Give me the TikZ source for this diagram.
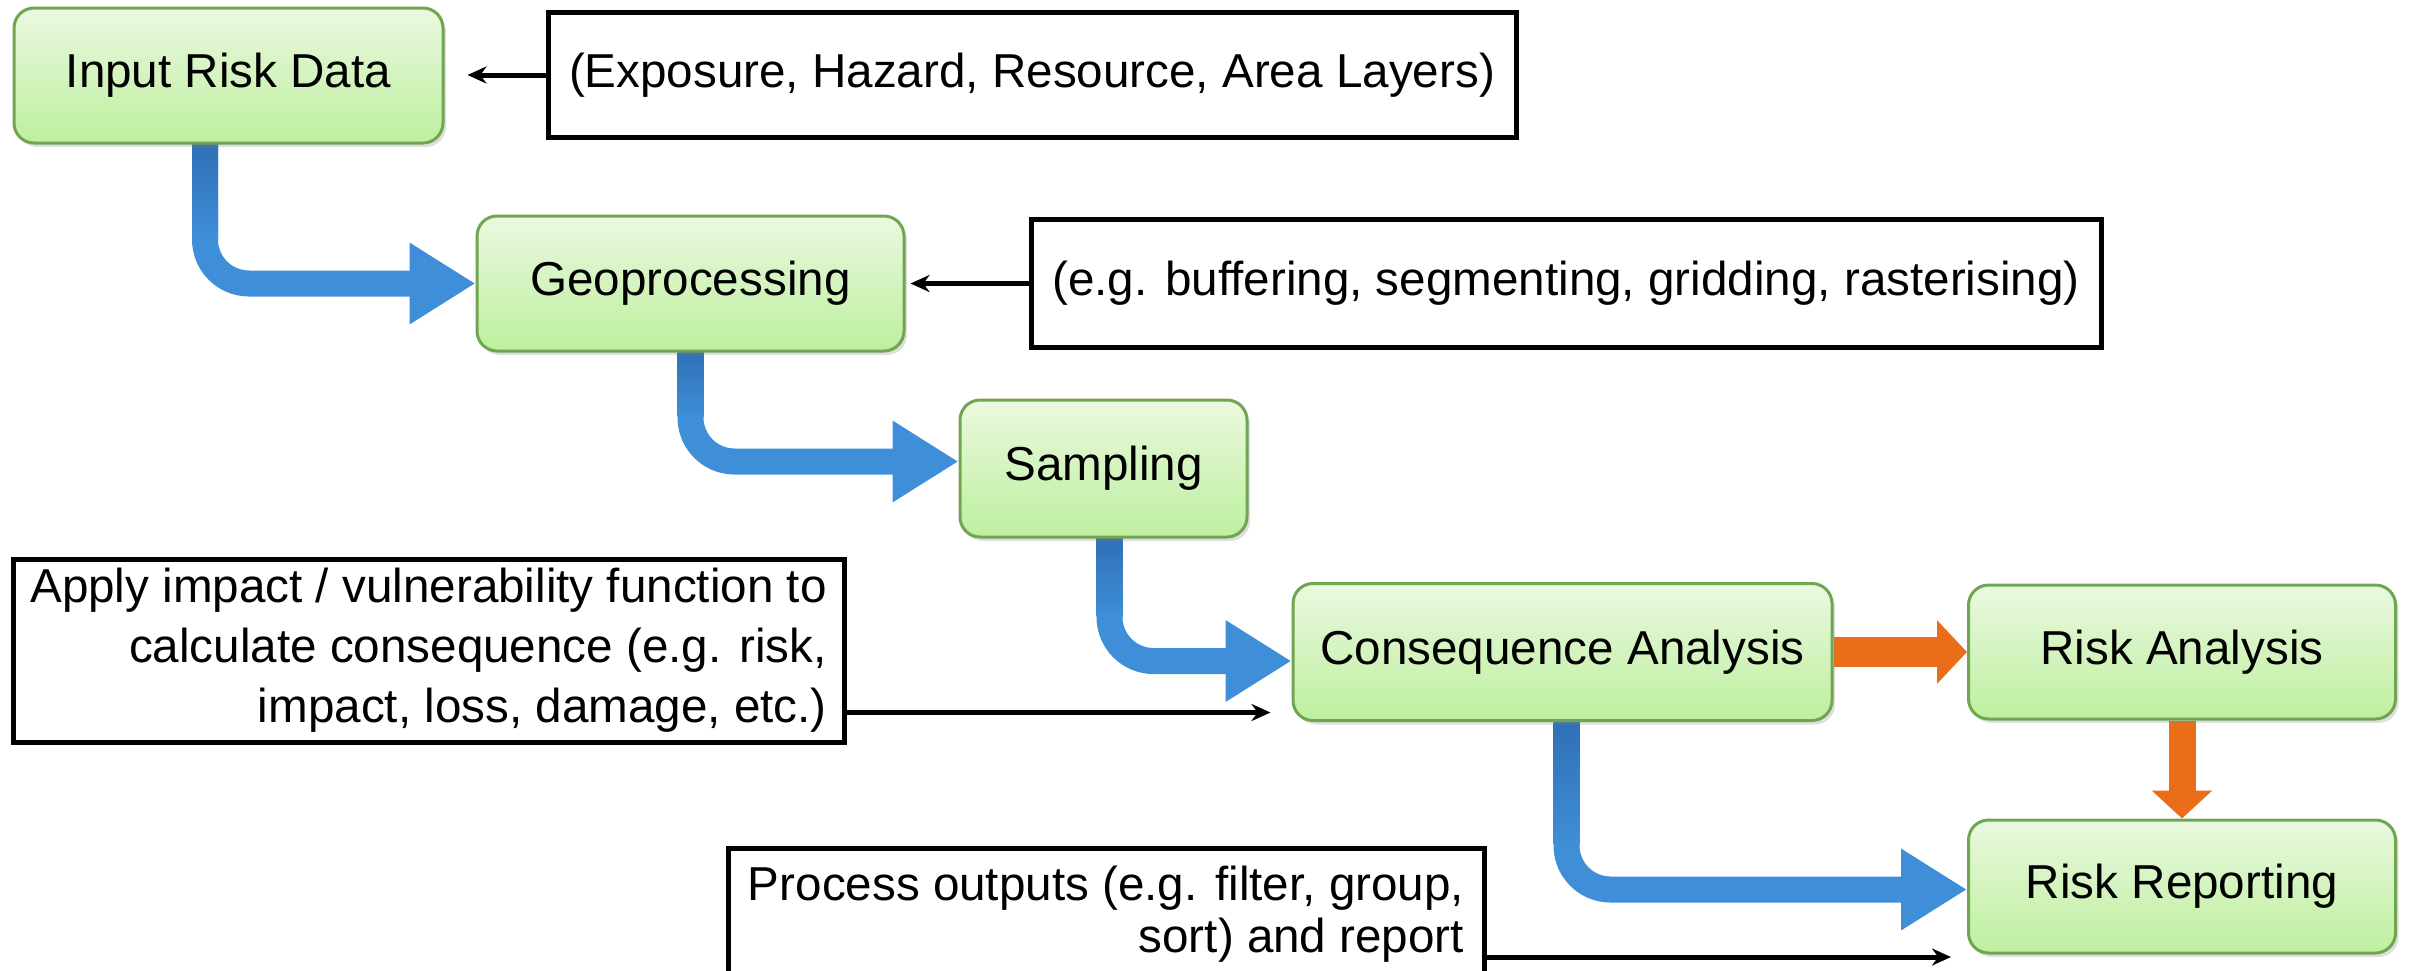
\documentclass[tikz,border=0pt]{standalone}
\usepackage{fontspec}
\setmainfont{Liberation Sans}
\usetikzlibrary{arrows.meta,shadows,calc}
\pgfdeclarelayer{bg}
\pgfsetlayers{bg,main}
\definecolor{gtop}{RGB}{234,249,224}
\definecolor{gbot}{RGB}{190,239,158}
\definecolor{gborder}{RGB}{112,166,82}
\definecolor{flowblue}{RGB}{62,142,216}
\definecolor{flowbluedark}{RGB}{48,112,182}
\definecolor{floworange}{RGB}{234,110,26}
\tikzset{
 stage/.style={draw=gborder, line width=1.5pt, rounded corners=10pt, top color=gtop, bottom color=gbot,
   drop shadow={opacity=0.25, shadow xshift=1.5pt, shadow yshift=-2pt}, inner sep=0pt, align=center,
   font=\fontsize{23.8}{28}\selectfont},
 note/.style={draw=black, line width=2.5pt, fill=white, inner sep=0pt, font=\fontsize{23.8}{28}\selectfont},
 thinarrow/.style={draw=black, line width=2.5pt, -{Stealth[length=9.5pt,width=8.5pt]}},
 bluearrow/.style={draw=flowblue, line width=13pt, rounded corners=22pt, -{Triangle[length=33pt,width=38.5pt]}},
 bluetone/.style={top color=flowbluedark, bottom color=flowblue},
 orangearrow/.style={draw=floworange, line width=15pt, -{Triangle[length=15pt,width=31pt]}},
}
\begin{document}
\begin{tikzpicture}[x=0.5pt,y=-0.5pt]
\useasboundingbox (0,0) rectangle (2409,970);
% stages
\node[stage, minimum width=214.5pt, minimum height=67.5pt] (inp) at (228.5,75.5) {Input Risk Data};
\node[stage, minimum width=213.5pt, minimum height=67.5pt] (geo) at (690.5,283.5) {Geoprocessing};
\node[stage, minimum width=143.5pt, minimum height=68.5pt] (samp) at (1103.5,468.5) {Sampling};
\node[stage, minimum width=269.5pt, minimum height=68.5pt] (cons) at (1562.5,652) {Consequence Analysis};
\node[stage, minimum width=213.5pt, minimum height=67pt] (ra) at (2182,652) {Risk Analysis};
\node[stage, minimum width=213.5pt, minimum height=66.5pt] (rr) at (2182,886.5) {Risk Reporting};
% notes
\node[note, minimum width=484pt, minimum height=62.5pt] (c1) at (1032,75) {(Exposure, Hazard, Resource, Area Layers)};
\node[note, minimum width=535pt, minimum height=64pt] (c2) at (1566,283.5) {(e.g. buffering, segmenting, gridding, rasterising)};
\node[note, minimum width=415.5pt, minimum height=91.5pt, align=right, font=\fontsize{23.8}{30}\selectfont] (c3) at (428.5,650.5)
  {Apply impact / vulnerability function to\\calculate consequence (e.g. risk,\\impact, loss, damage, etc.)};
\node[note, minimum width=378pt, minimum height=66pt, align=right, font=\fontsize{23.8}{26}\selectfont] (c4) at (1106,914)
  {Process outputs (e.g. filter, group,\\sort) and report};
% connectors
\begin{pgfonlayer}{bg}
\draw[bluearrow] ([xshift=-11.75pt]inp.south) |- (geo.west);
\shade[bluetone] ([xshift=-18.25pt]inp.south) rectangle ($([xshift=-5.25pt]inp.south |- geo.west)+(0,-45)$);
\draw[bluearrow] (geo.south) |- ([yshift=3.5pt]samp.west);
\shade[bluetone] ([xshift=-6.5pt]geo.south) rectangle ($([xshift=6.5pt,yshift=3.5pt]geo.south |- samp.west)+(0,-45)$);
\draw[bluearrow] ([xshift=3pt]samp.south) |- ([yshift=-4.5pt]cons.west);
\shade[bluetone] ([xshift=-3.5pt]samp.south) rectangle ($([xshift=9.5pt,yshift=-4.5pt]samp.south |- cons.west)+(0,-45)$);
\draw[bluearrow] ([xshift=2pt]cons.south) |- ([yshift=-1.5pt]rr.west);
\shade[bluetone] ([xshift=-4.5pt]cons.south) rectangle ($([xshift=8.5pt,yshift=-1.5pt]cons.south |- rr.west)+(0,-45)$);
\draw[orangearrow] (cons.east) -- (ra.west);
\draw[orangearrow, line width=13.5pt, -{Triangle[length=14pt,width=29.5pt]}] (ra.south) -- (rr.north);
\end{pgfonlayer}
\draw[thinarrow, shorten >=11.5pt] (c1.west) -- (c1.west -| inp.east);
\draw[thinarrow, shorten >=2.5pt] (c2.west) -- (c2.west -| geo.east);
\draw[thinarrow, shorten >=10.5pt] ([yshift=-31pt]c3.east) -- ([yshift=-31pt]c3.east -| cons.west);
\draw[thinarrow, shorten >=8pt] ([yshift=-21.5pt]c4.east) -- ([yshift=-21.5pt]c4.east -| rr.west);
\end{tikzpicture}
\end{document}
